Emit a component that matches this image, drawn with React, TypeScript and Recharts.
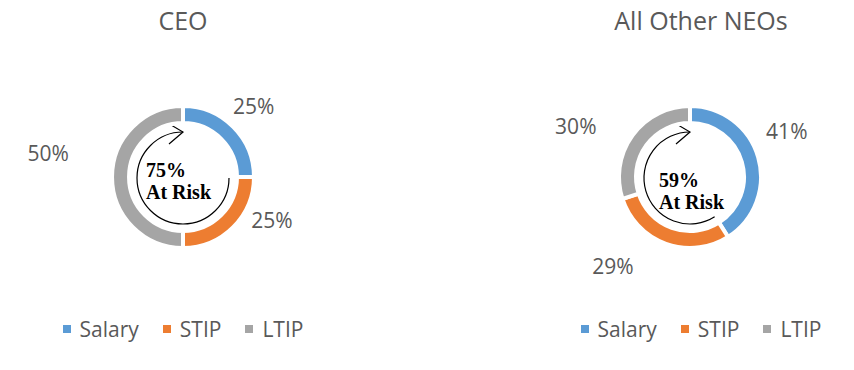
import { PieChart, Pie, Cell, Legend, Customized } from 'recharts';

const segments = ['Salary', 'STIP', 'LTIP'];
const ceoValues = [25, 25, 50];
const neoValues = [41, 29, 30];
const colors = ['#5B9BD5', '#ED7D31', '#A5A5A5'];
const textColor = '#595959';

const toRows = (values: number[]) => segments.map((name, i) => ({ name, value: values[i] }));

// label placement around the ring: radius and angle tweak from the slice midAngle
const ceoLabels = [
    { r: 100, shift: 0 },
    { r: 99, shift: 19 },
    { r: 137, shift: -10 },
];
const neoLabels = [
    { r: 107, shift: 9 },
    { r: 118, shift: -21 },
    { r: 125, shift: 12 },
];

const RAD = Math.PI / 180;

const RiskArrow = ({ cx, cy, share, textDx, textDy }) => {
    const r = 46;
    const theta = 360 * (1 - share) * RAD;
    const sx = cx + r * Math.sin(theta);
    const sy = cy - r * Math.cos(theta);
    const large = share > 0.5 ? 1 : 0;
    const tipX = cx;
    const tipY = cy - r;
    return (
        <g>
            <path
                d={`M${sx},${sy} A${r},${r} 0 ${large} 1 ${tipX},${tipY}`}
                fill="none"
                stroke="#000"
                strokeWidth={1.2}
            />
            <path
                d={`M${tipX - 17},${tipY - 10} L${tipX},${tipY} L${tipX - 14},${tipY + 12}`}
                fill="none"
                stroke="#000"
                strokeWidth={1.2}
            />
            <text
                x={cx + textDx}
                y={cy + textDy}
                fontFamily="'Liberation Serif', 'Times New Roman', serif"
                fontWeight="bold"
                fontSize={20}
                fill="#000"
            >
                <tspan x={cx + textDx}>{Math.round(share * 100)}%</tspan>
                <tspan x={cx + textDx} dy={22}>At Risk</tspan>
            </text>
        </g>
    );
};

const LegendRow = ({ payload }) => {
    const items = [...(payload || [])].sort((a, b) => segments.indexOf(a.value) - segments.indexOf(b.value));
    return (
        <div style={{ display: 'flex', justifyContent: 'center', alignItems: 'center', lineHeight: '28px' }}>
            {items.map((entry, i) => (
                <div key={i} style={{ display: 'flex', alignItems: 'center', marginRight: i < 2 ? 24 : 0 }}>
                    <span style={{ width: 8, height: 8, background: entry.color, display: 'inline-block', marginRight: 9 }} />
                    <span style={{ color: textColor, fontSize: 21 }}>{entry.value}</span>
                </div>
            ))}
        </div>
    );
};

const DonutPanel = ({ title, values, left, width, cx, placement, textDx, textDy }) => {
    const cy = 177;
    const total = values.reduce((a, b) => a + b, 0);
    const share = (total - values[0]) / total;
    const renderLabel = (props) => {
        const { midAngle, index, value } = props;
        const p = placement[index];
        const a = (midAngle + p.shift) * RAD;
        return (
            <text
                x={cx + p.r * Math.cos(a)}
                y={cy - p.r * Math.sin(a)}
                textAnchor="middle"
                dominantBaseline="central"
                fill={textColor}
                fontSize={21}
            >
                {value}%
            </text>
        );
    };
    return (
        <div style={{ position: 'absolute', left, top: 0 }}>
            <PieChart width={width} height={370} margin={{ top: 0, right: 0, bottom: 0, left: 0 }}>
                <text x={width / 2} y={30} textAnchor="middle" fill={textColor} fontSize={25}>
                    {title}
                </text>
                <Pie
                    data={toRows(values)}
                    dataKey="value"
                    nameKey="name"
                    cx={cx}
                    cy={cy}
                    innerRadius={54}
                    outerRadius={71}
                    startAngle={90}
                    endAngle={-270}
                    stroke="#fff"
                    strokeWidth={4}
                    label={renderLabel}
                    labelLine={false}
                    isAnimationActive={false}
                >
                    {values.map((_, i) => (
                        <Cell key={i} fill={colors[i]} />
                    ))}
                </Pie>
                <Customized
                    component={() => <RiskArrow cx={cx} cy={cy + 1} share={share} textDx={textDx} textDy={textDy} />}
                />
                <Legend
                    verticalAlign="bottom"
                    content={(p) => <LegendRow payload={p.payload} />}
                    wrapperStyle={{ top: 315, left: 0, width: '100%' }}
                />
            </PieChart>
        </div>
    );
};

const App = () => {
    return (
        <div style={{ position: 'absolute', left: 0, top: 0, width: 854, height: 370, background: '#fff', fontFamily: "'Open Sans', sans-serif" }}>
            <DonutPanel title="CEO" values={ceoValues} left={0} width={366} cx={183} placement={ceoLabels} textDx={-37} textDy={-1} />
            <DonutPanel title="All Other NEOs" values={neoValues} left={551} width={300} cx={139} placement={neoLabels} textDx={-31} textDy={9} />
        </div>
    );
};

export default App;
